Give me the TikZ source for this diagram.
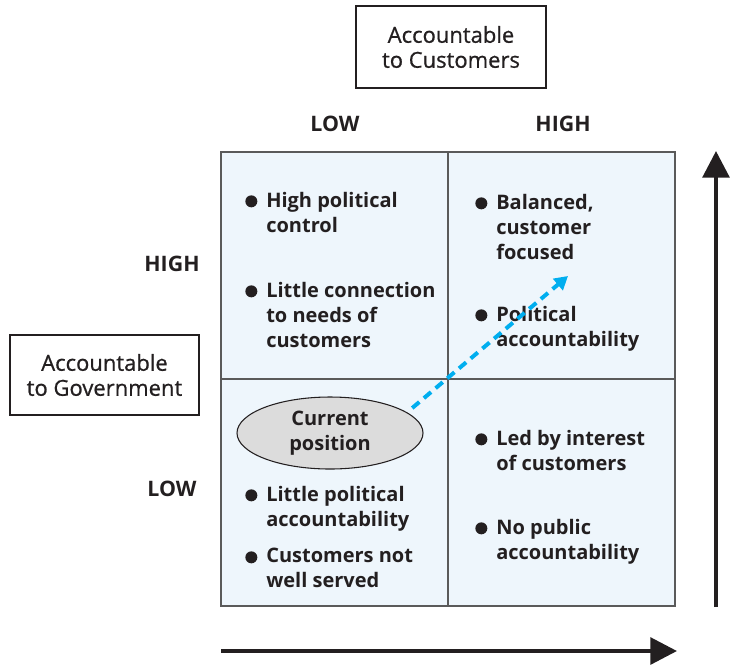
\documentclass[tikz,border=0pt]{standalone}
\usepackage{fontspec}
\setmainfont{Open Sans}
\newfontfamily\titlefont[FakeBold=0.8]{Open Sans}
\usepackage{xcolor}
\usetikzlibrary{arrows.meta, positioning, shapes.geometric}
\definecolor{cellblue}{HTML}{EEF6FC}
\definecolor{gridgray}{HTML}{5A5A5A}
\definecolor{dashcyan}{HTML}{00AEEF}
\definecolor{inkdark}{HTML}{231F20}
\definecolor{ovalgray}{HTML}{DCDCDC}
\tikzset{
  axisbox/.style={rectangle, draw=inkdark, line width=0.9pt, minimum width=142.5pt,
                  minimum height=61.5pt, align=center, text=inkdark,
                  font=\titlefont\fontsize{16.5}{18.75}\selectfont},
  level/.style={font=\bfseries\fontsize{16}{18}\selectfont, text=inkdark},
  item/.style={anchor=north west, align=left, inner sep=0pt, text=inkdark,
               font=\bfseries\fontsize{15}{18.75}\selectfont},
  dot/.style={circle, fill=inkdark, inner sep=0pt, minimum size=9pt},
  bigarrow/.style={-{Triangle[length=20pt,width=20pt]}, draw=inkdark, line width=3pt},
  goarrow/.style={-{Triangle[length=10pt,width=11pt]}, draw=dashcyan, line width=3pt,
                  dash pattern=on 7pt off 4.5pt},
  oval/.style={ellipse, draw=inkdark, fill=ovalgray, line width=0.8pt, inner sep=0pt,
               minimum width=139.5pt, minimum height=54pt, align=center, text=inkdark,
               font=\bfseries\fontsize{15}{18.75}\selectfont},
}
\begin{document}
\begin{tikzpicture}[x=0.75pt, y=-0.75pt]
  \useasboundingbox (0,0) rectangle (730,668);

  % Grid
  \node[draw=gridgray, fill=cellblue, line width=1.1pt, inner sep=0pt,
        minimum width=340.5pt, minimum height=340.5pt] (grid) at (448,379) {};
  \draw[gridgray, line width=1.1pt] (grid.north) -- (grid.south);
  \draw[gridgray, line width=1.1pt] (grid.west) -- (grid.east);

  % Axis titles
  \node[axisbox] (cust) at (451,47) {Accountable\\to Customers};
  \node[axisbox, minimum width=141.75pt, minimum height=60pt] (gov) at (104.5,375) {Accountable\\to Government};

  % Levels
  \node[level] (lowx) at (335,124) {LOW};
  \node[level] (highx) at (563,124) {HIGH};
  \node[level] (highy) at (172,264) {HIGH};
  \node[level] (lowy) at (172,489) {LOW};

  % Quadrant items
  \node[item] (tl1) at (266,192) {High political\\control};
  \node[item] (tl2) at (266,282) {Little connection\\to needs of\\customers};
  \node[item] (tr1) at (496,194) {Balanced,\\customer\\focused};
  \node[item] (tr2) at (496,306) {Political\\accountability};
  \node[item] (bl1) at (266,486) {Little political\\accountability};
  \node[item] (bl2) at (266,548) {Customers not\\well served};
  \node[item] (br1) at (496,430) {Led by interest\\of customers};
  \node[item] (br2) at (496,519) {No public\\accountability};
  \foreach \n in {tl1,tl2,tr1,tr2,bl1,bl2,br1,br2}
    \node[dot] (\n-dot) at ([xshift=-11pt,yshift=-7pt]\n.north west) {};

  % Current position
  \node[oval] (cur) at (330,433) {Current\\position};
  \coordinate (goal) at (568,276);
  \draw[goarrow, shorten <=5pt] (cur.15) -- (goal);

  % Axis arrows
  \coordinate (xfrom) at (221,651);
  \coordinate (xto) at (677,651);
  \coordinate (yfrom) at (716,607);
  \coordinate (yto) at (716,151);
  \draw[bigarrow] (xfrom) -- (xto);
  \draw[bigarrow] (yfrom) -- (yto);
\end{tikzpicture}
\end{document}
